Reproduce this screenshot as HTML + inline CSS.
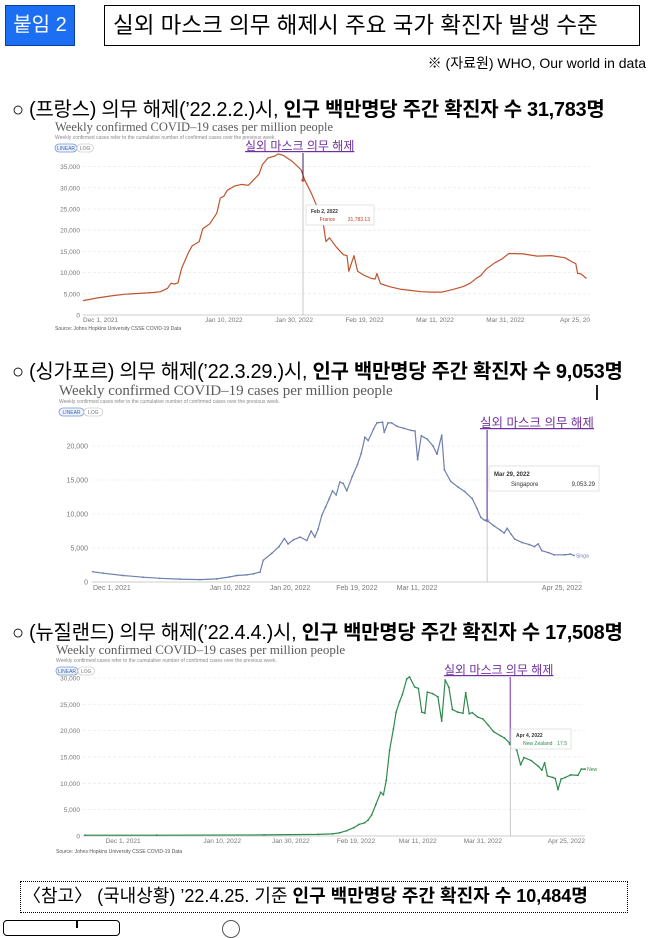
<!DOCTYPE html>
<html><head><meta charset="utf-8">
<style>
html,body{margin:0;padding:0;background:#fff;}
body{width:648px;height:926px;position:relative;overflow:hidden;font-family:"Liberation Sans","Noto Sans CJK KR",sans-serif;color:#000;}
.abs{position:absolute;white-space:nowrap;}
.h{font-size:20px;letter-spacing:-0.3px;}
.h b{font-weight:bold;}
</style></head>
<body>
<div class="abs" style="left:5px;top:5px;width:70px;height:41px;background:#1c6ef2;border:1px solid #0b3f9a;box-sizing:border-box;color:#fff;font-size:20px;line-height:39px;text-align:center;">붙임 2</div>
<div class="abs" style="left:104px;top:5px;width:536px;height:41px;border:1px solid #000;box-sizing:border-box;font-size:22.5px;line-height:39px;padding-left:8px;">실외 마스크 의무 해제시 주요 국가 확진자 발생 수준</div>
<div class="abs" style="right:2px;top:53px;font-size:14px;">※ (자료원) WHO, Our world in data</div>

<div class="abs h" style="left:12px;top:93px;">○ (프랑스) 의무 해제(’22.2.2.)시, <b>인구 백만명당 주간 확진자 수 31,783명</b></div>
<div class="abs h" style="left:12px;top:355px;">○ (싱가포르) 의무 해제(’22.3.29.)시, <b>인구 백만명당 주간 확진자 수 9,053명</b></div>
<div class="abs" style="left:596px;top:385px;width:2px;height:15px;background:#222;"></div>
<div class="abs h" style="left:12px;top:616px;">○ (뉴질랜드) 의무 해제(’22.4.4.)시, <b>인구 백만명당 주간 확진자 수 17,508명</b></div>

<div class="abs" style="left:20px;top:881px;width:608px;height:32px;border:1.5px dotted #000;box-sizing:border-box;font-size:18px;line-height:29px;padding-left:2px;">〈참고〉 (국내상황) ’22.4.25. 기준 <b>인구 백만명당 주간 확진자 수 10,484명</b></div>
<div class="abs" style="left:3px;top:920px;width:115px;height:14px;border:1.5px solid #000;border-radius:4px;"></div>
<div class="abs" style="left:76px;top:920px;width:1.5px;height:8px;background:#000;"></div>
<div class="abs" style="left:222px;top:920px;width:16px;height:16px;border:1px solid #555;border-radius:50%;"></div>

<svg id="charts" width="648" height="926" style="position:absolute;left:0;top:0;" xmlns="http://www.w3.org/2000/svg"></svg>

<script>
// France (values in thousands, x in days since Dec 1 2021)
const frDays=[0,4,8,12,16,20,22,24,25,26,27,28,30,31,33,34,36,38,39,40,41,43,45,47,50,51,52.5,54.5,55.5,57,59.5,61,62,63,65,66,68,69,70,72,74,75,75.5,77,78,80,82,83,83.5,84.5,87,90,93,96,99,102,105,108,110,112,113,114.5,117,119,121,125,129,133,137,139,140,140.5,141.5,143];
const frVals=[3.4,4.0,4.5,4.9,5.1,5.3,5.5,6.3,7.5,7.3,7.6,11,14.8,16.3,17.3,20.3,21.5,24,27.6,28,29.4,30.4,30.8,30.6,33.2,35.5,37.0,37.5,38,37.6,36.2,35,34.2,31.8,28.5,26.5,23,17.3,18.2,16,14.2,14,10.3,14,10.3,9.3,8.6,8.5,9.8,7.4,6.7,6.1,5.8,5.5,5.4,5.4,6.0,6.7,7.5,8.8,9.3,10.8,12.3,13.2,14.5,14.4,13.9,14.0,13.5,12.5,12.1,9.8,9.7,8.6];
const frTickLabels=["Dec 1, 2021","Jan 10, 2022","Jan 30, 2022","Feb 19, 2022","Mar 11, 2022","Mar 31, 2022","Apr 25, 20"];
const frTickDays=[0,40,60,80,100,120,138];
const frYTicks=[0,5,10,15,20,25,30,35];

// Singapore
const sgDays=[0,3,9,15,20,26,32,37,41,43,46,48,50,51,53.5,55.7,57.3,58.4,60,62,64,65.3,66.4,67.4,68.5,69.6,70.7,71.7,72.8,73.9,74.9,76,77.6,79.2,80.3,81.4,82.4,84,85,86.7,87.2,88.3,89.4,91,93.1,95.2,96.4,97.2,98.3,100.1,101.8,103,104.4,105.2,107.1,109.2,111.3,113.5,115,116.1,117.2,118,119.9,122,123.1,124,125.2,126.3,128.5,130.6,132.2,133.3,134.4,136.5,138,141.3,142.9,144];
const sgVals=[1.5,1.3,0.95,0.7,0.55,0.42,0.35,0.45,0.75,0.95,1.05,1.2,1.45,3.2,4.2,5.2,6.4,5.6,6.2,6.6,6.1,7.5,6.6,7.8,9.8,11,12.2,13.4,12.8,14.7,14.5,13.4,15.5,17.3,18.9,21.3,20.8,22.5,23.4,23.5,22.0,23.4,23.4,22.9,22.6,22.3,22.2,18.0,21.5,21.0,20.0,18.8,21.6,16.5,14.8,14.0,13.3,12.3,10.8,9.5,9.1,9.05,8.3,7.6,7.2,7.9,7.0,6.3,5.8,5.5,5.2,5.6,4.6,4.3,4.0,4.0,4.1,3.9];
const sgTickLabels=["Dec 1, 2021","Jan 10, 2022","Jan 20, 2022","Feb 19, 2022","Mar 11, 2022","Apr 25, 2022"];
const sgTickDays=[0,41,59,79,97,137];
const sgYTicks=[0,5,10,15,20];

// New Zealand
const nzDays=[0,20.9,52.2,67.9,72.1,74.2,76.3,78.4,79.9,81.5,82.5,83.6,84.8,86.2,87,87.8,88.8,89.9,90.7,91.7,92.5,93.8,94.6,96.1,97.2,98.2,99.1,99.8,101.4,102.9,104,105,106.1,107.1,108.7,110.2,111,112,112.9,114.4,116,117.6,119.1,121.2,122.3,124,125.9,127,128,130.1,132.2,133.2,134,134.8,136.4,137.1,137.9,138.8,140,141.6,143.7,144.7,145.8];
const nzVals=[0.15,0.15,0.2,0.3,0.4,0.6,1.0,1.6,2.2,2.5,3.0,4.0,6.0,8.3,7.8,10.5,16.3,20.3,23.5,25.5,26.8,29.8,30.2,28.3,28.0,23.5,23.3,27.3,27.0,26.4,21.8,29.6,28.2,24,23.5,23.3,27.2,23.2,23.4,22.6,22.2,21,19.8,19,18.6,17.5,16.3,13.5,14.9,14.3,13.2,12.5,13.9,11.4,11.1,10.9,8.8,10.8,11.1,11.6,11.5,12.7,12.7];
const nzTickLabels=["Dec 1, 2021","Jan 10, 2022","Jan 30, 2022","Feb 19, 2022","Mar 11, 2022","Mar 31, 2022","Apr 25, 2022"];
const nzTickDays=[6,40,60,79,97,116,138];
const nzYTicks=[0,5,10,15,20,25,30];

const NS="http://www.w3.org/2000/svg";
const svg=document.getElementById('charts');
function el(tag,attrs,parent){const e=document.createElementNS(NS,tag);for(const k in attrs)e.setAttribute(k,attrs[k]);(parent||svg).appendChild(e);return e;}
function txt(s,attrs,parent){const t=el('text',attrs,parent);t.textContent=s;return t;}
function fmt(k){return k===0?"0":(k+",000");}

function drawChart(c){
  const g=el('g',{});
  
  
  const x=d=>c.x0+d*c.kx, y=v=>c.y0-v*c.ky;
  const t=txt("Weekly confirmed COVID–19 cases per million people",{x:c.tx,y:c.ty,'font-family':'Liberation Serif, serif','font-size':c.tfs,fill:'#5b5b5b'},g);
  
  
  const st=txt("Weekly confirmed cases refer to the cumulative number of confirmed cases over the previous week.",{x:c.tx,y:c.ty+8,'font-size':5,fill:'#888'},g);
  
  
  const b1=el('rect',{x:c.tx,y:c.ty+13,width:c.bw,height:8,rx:4,fill:'#eef3fb',stroke:'#6f95d6','stroke-width':0.8},g);
  
  
  txt("LINEAR",{x:c.tx+c.bw/2,y:c.ty+19,'font-size':5,'text-anchor':'middle',fill:'#3b64b0'},g);
  const b2=el('rect',{x:c.tx+c.bw,y:c.ty+13,width:c.bw*0.75,height:8,rx:4,fill:'#fff',stroke:'#ccc','stroke-width':0.8},g);
  
  
  txt("LOG",{x:c.tx+c.bw*1.37,y:c.ty+19,'font-size':5,'text-anchor':'middle',fill:'#777'},g);
  c.yt.forEach(v=>{
    const gl=el('line',{x1:c.gx0,x2:c.gx1,y1:y(v),y2:y(v),stroke:v===0?'#bbb':'#ececec','stroke-width':0.8,'stroke-dasharray':v===0?'':'3,2'},g);
    
    
    const lb=txt(fmt(v),{x:c.lx,y:y(v)+2.5,'font-size':c.fs,'text-anchor':'end',fill:'#777'},g);
    
    
  });
  c.tl.forEach((s,i)=>{
    const n=c.tl.length;
    const anchor=i===0?'start':(i===n-1?'end':'middle');
    const lb=txt(s,{x:i===0?x(c.td[i]):(i===n-1?c.gx1:x(c.td[i])),y:c.xly,'font-size':c.fs,'text-anchor':anchor,fill:'#777'},g);
    
    
  });
  let d='';
  c.days.forEach((dd,i)=>{d+=(i?'L':'M')+x(dd).toFixed(1)+','+y(c.vals[i]).toFixed(1);});
  const p=el('path',{d:d,fill:'none',stroke:c.col,'stroke-width':1.2,'stroke-linejoin':'round'},g);
  
  
  if(c.dots){c.days.forEach((dd,i)=>{
    const ci=el('circle',{cx:x(dd),cy:y(c.vals[i]),r:0.9,fill:c.col},g);
    
    
  });}
  const mx=x(c.md), my=y(c.mv);
  const gl=el('line',{x1:mx,x2:mx,y1:my,y2:c.y0,stroke:'#bbb','stroke-width':0.8},g);
  
  
  const ml=el('line',{x1:mx,x2:mx,y1:c.ay+3,y2:my,stroke:c.mcol,'stroke-width':c.mw},g);
  
  
  el('circle',{cx:mx,cy:my,r:1.6,fill:c.col},g);
  const an=txt("실외 마스크 의무 해제",{x:c.ax,y:c.ay,'font-size':c.afs,fill:'#7030a0','text-decoration':'underline','font-family':'Liberation Sans, Noto Sans CJK KR, sans-serif'},g);
  
  
  const tb=el('rect',{x:c.tbx,y:c.tby,width:c.tbw,height:c.tbh,fill:'#fff',stroke:'#ddd','stroke-width':0.8},g);
  
  
  txt(c.tt1,{x:c.tbx+5,y:c.tby+c.tbh*0.4,'font-size':c.tfs2,'font-weight':'bold',fill:'#333'},g);
  txt(c.tt2,{x:c.tbx+c.tbw*0.2,y:c.tby+c.tbh*0.8,'font-size':c.tfs2,fill:c.tcol},g);
  txt(c.tt3,{x:c.tbx+c.tbw-4,y:c.tby+c.tbh*0.8,'font-size':c.tfs2,'text-anchor':'end',fill:c.tcol},g);
  if(c.src){txt("Source: Johns Hopkins University CSSE COVID-19 Data",{x:c.tx,y:c.srcy,'font-size':5,fill:'#555'},g);}
  if(c.end){txt(c.end,{x:x(c.days[c.days.length-1])+2,y:y(c.vals[c.vals.length-1])+2,'font-size':5,fill:c.col},g);}
}

drawChart({name:'france',days:frDays,vals:frVals,td:frTickDays,tl:frTickLabels,yt:frYTicks,
 x0:83,kx:3.52,y0:315,ky:4.24,gx0:83,gx1:590,lx:80,xly:322,fs:6.5,col:'#c0532c',dots:false,
 tx:55,ty:131,tfs:12.5,bw:22,md:62.5,mv:31.8,mcol:'#3d1f5c',mw:1,ax:245,ay:150,afs:12,aw:125,
 tbx:306,tby:205,tbw:68,tbh:20,tt1:"Feb 2, 2022",tt2:"France",tt3:"31,783.13",tcol:'#c0392b',tfs2:5,src:true,srcy:330});
drawChart({name:'singapore',days:sgDays,vals:sgVals,td:sgTickDays,tl:sgTickLabels,yt:sgYTicks,
 x0:93,kx:3.34,y0:582,ky:6.8,gx0:92,gx1:582,lx:88,xly:590,fs:7,col:'#6f7fae',dots:true,
 tx:59,ty:395,tfs:15,bw:25,md:118,mv:9.05,mcol:'#7a3fb8',mw:1.2,ax:480,ay:427,afs:12.5,aw:75,
 tbx:489,tby:466,tbw:110,tbh:25,tt1:"Mar 29, 2022",tt2:"Singapore",tt3:"9,053.29",tcol:'#333',tfs2:6,src:false,end:"Singa"});
drawChart({name:'newzealand',days:nzDays,vals:nzVals,td:nzTickDays,tl:nzTickLabels,yt:nzYTicks,
 x0:85,kx:3.43,y0:836,ky:5.27,gx0:83,gx1:585,lx:80,xly:843,fs:6.5,col:'#2f8a4c',dots:true,
 tx:56,ty:654,tfs:13,bw:22,md:124,mv:17.5,mcol:'#9b6fcf',mw:1.5,ax:444,ay:674,afs:12,aw:122,
 tbx:511,tby:729,tbw:60,tbh:20,tt1:"Apr 4, 2022",tt2:"New Zealand",tt3:"17.5",tcol:'#2f8a4c',tfs2:5,src:true,srcy:853,end:"New"});
</script>
</body></html>
